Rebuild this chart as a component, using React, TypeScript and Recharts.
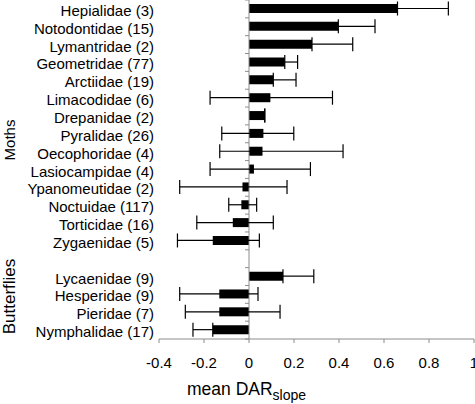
import { BarChart, Bar, XAxis, YAxis, ErrorBar, ReferenceLine } from "recharts";

// families, top to bottom; "" is the spacer row between moths and butterflies
const families = [
    "Hepialidae (3)",
    "Notodontidae (15)",
    "Lymantridae (2)",
    "Geometridae (77)",
    "Arctiidae (19)",
    "Limacodidae (6)",
    "Drepanidae (2)",
    "Pyralidae (26)",
    "Oecophoridae (4)",
    "Lasiocampidae (4)",
    "Ypanomeutidae (2)",
    "Noctuidae (117)",
    "Torticidae (16)",
    "Zygaenidae (5)",
    "",
    "Lycaenidae (9)",
    "Hesperidae (9)",
    "Pieridae (7)",
    "Nymphalidae (17)",
];

// mean DAR slope and the ends of the error bars.
// where a whisker end is hidden inside its bar it is set to the mean
const means = [0.66, 0.397, 0.28, 0.159, 0.108, 0.095, 0.07, 0.064, 0.06, 0.022, -0.029, -0.034, -0.072, -0.161, null, 0.151, -0.132, -0.132, -0.161];
const lower = [0.66, 0.397, 0.28, 0.159, 0.108, -0.173, 0.07, -0.121, -0.13, -0.173, -0.308, -0.09, -0.232, -0.318, null, 0.151, -0.308, -0.283, -0.249];
const upper = [0.886, 0.56, 0.461, 0.216, 0.209, 0.371, 0.07, 0.199, 0.418, 0.273, 0.169, 0.034, 0.108, 0.046, null, 0.288, 0.04, 0.138, -0.161];

const xTicks = [-0.4, -0.2, 0, 0.2, 0.4, 0.6, 0.8, 1];
const xDomain: [number, number] = [-0.4, 1];

const CHART_W = 484;
const CHART_H = 404;
const Y_AXIS_W = 159;
const PLOT_W = 315;
const PLOT_H = 339;
const AXIS_GREY = "#8c8c8c";
const FONT = "'Liberation Sans', Arial, sans-serif";

// where x = 0 sits, and the height of one row, from the layout above
const zeroX = Y_AXIS_W + ((0 - xDomain[0]) / (xDomain[1] - xDomain[0])) * PLOT_W;
const band = PLOT_H / families.length;

const data = families.map((name, i) => ({
    name,
    mean: means[i],
    err: means[i] === null ? null : [means[i]! - lower[i]!, upper[i]! - means[i]!],
}));

function FamilyTick(props: any) {
    const { x, y, payload, index } = props;
    return (
        <g>
            {/* Excel style tick marks between categories on the zero line */}
            <line x1={zeroX - 4} x2={zeroX} y1={y - band / 2} y2={y - band / 2} stroke={AXIS_GREY} />
            {index === families.length - 1 && (
                <line x1={zeroX - 4} x2={zeroX} y1={y + band / 2} y2={y + band / 2} stroke={AXIS_GREY} />
            )}
            <text x={x} y={y} dy={7} textAnchor="end" fontSize={15} fill="#000" fontFamily={FONT}>
                {payload.value}
            </text>
        </g>
    );
}

export default function App() {
    return (
        <div style={{ position: "absolute", left: 0, top: 0, width: 475, height: 404, overflow: "hidden", background: "#fff", fontFamily: FONT }}>
            <BarChart
                layout="vertical"
                width={CHART_W}
                height={CHART_H}
                data={data}
                margin={{ top: 0, right: CHART_W - Y_AXIS_W - PLOT_W, bottom: 0, left: 0 }}
                barCategoryGap={0}
            >
                <XAxis
                    type="number"
                    domain={xDomain}
                    ticks={xTicks}
                    height={CHART_H - PLOT_H}
                    tickSize={4}
                    tickMargin={14}
                    axisLine={{ stroke: AXIS_GREY }}
                    tickLine={{ stroke: AXIS_GREY }}
                    tick={{ fill: "#000", fontSize: 15, fontFamily: FONT }}
                    tickFormatter={(v: number) => String(Number(v.toFixed(1)))}
                    interval={0}
                />
                <YAxis
                    type="category"
                    dataKey="name"
                    width={Y_AXIS_W}
                    axisLine={false}
                    tickLine={false}
                    tickSize={0}
                    tickMargin={5}
                    interval={0}
                    tick={<FamilyTick />}
                />
                <ReferenceLine x={0} stroke={AXIS_GREY} />
                <Bar dataKey="mean" fill="#000" barSize={9} isAnimationActive={false}>
                    <ErrorBar dataKey="err" direction="x" width={7} stroke="#000" strokeWidth={1.2} />
                </Bar>
            </BarChart>
            <svg width={475} height={404} style={{ position: "absolute", left: 0, top: 0, pointerEvents: "none" }}>
                <text transform="translate(15,140) rotate(-90)" textAnchor="middle" fontSize={15} fontFamily={FONT} fill="#000">
                    Moths
                </text>
                <text transform="translate(15,296.5) rotate(-90)" textAnchor="middle" fontSize={17} fontFamily={FONT} fill="#000">
                    Butterflies
                </text>
                <text x={187} y={395} fontSize={17.5} fontFamily={FONT} fill="#000">
                    mean DAR
                    <tspan fontSize={14} dy={5}>slope</tspan>
                </text>
            </svg>
        </div>
    );
}
